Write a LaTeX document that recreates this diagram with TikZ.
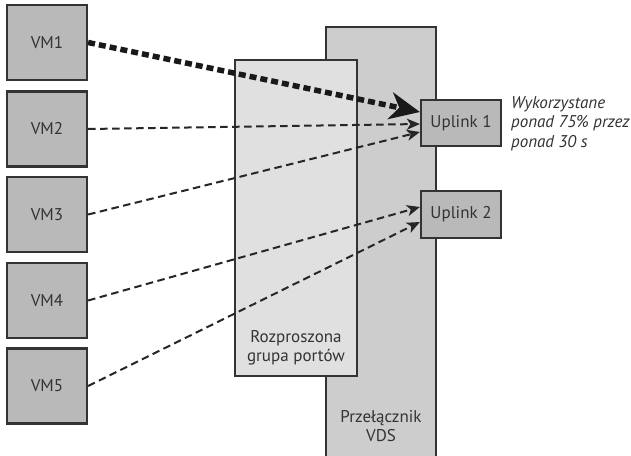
\documentclass[tikz,border=0pt]{standalone}
\usepackage{fontspec}
\setmainfont{PT Sans}
\usetikzlibrary{arrows.meta,calc}
\definecolor{edge}{HTML}{333333}
\definecolor{vmfill}{HTML}{B9B9B9}
\definecolor{pgfillc}{HTML}{E0E0E0}
\definecolor{vdsfill}{HTML}{CDCDCD}
\definecolor{txt}{HTML}{333333}
\begin{document}
\begin{tikzpicture}[x=1pt,y=-1pt,
  box/.style={draw=edge, line width=2.2pt, fill=#1, inner sep=0pt, text=txt, font=\fontsize{17}{19}\selectfont},
  vmbox/.style={box=vmfill, minimum width=80pt, minimum height=75pt},
  upbox/.style={box=vmfill, minimum width=80pt, minimum height=46pt},
  lbl/.style={text=txt, align=center, font=\fontsize{17}{19}\selectfont, inner sep=0pt},
  note/.style={text=txt, align=left, font=\itshape\fontsize{17}{19.5}\selectfont, inner sep=0pt, anchor=north west},
  thin/.style={draw=black!85, line width=2pt, dash pattern=on 7.5pt off 4.5pt, -{Stealth[length=13pt,width=11pt,inset=3.5pt]}},
  thick/.style={draw=black!90, line width=5.5pt, dash pattern=on 7pt off 4pt, -{Stealth[length=30pt,width=27pt,inset=9pt]}}
]
\useasboundingbox[fill=white] (0,0) rectangle (631,455);
% VDS switch
\node[box=vdsfill, minimum width=110pt, minimum height=432pt] (vds) at (381,243) {};
\node[lbl] (vdslbl) at (381,426) {Przełącznik\\VDS};
% port group
\node[box=pgfillc, minimum width=122pt, minimum height=316pt] (pg) at (296,218) {};
\node[lbl] (pglbl) at (296,348) {Rozproszona\\grupa portów};
% uplinks
\node[upbox] (u1) at (461,123) {Uplink 1};
\node[upbox, minimum height=47pt] (u2) at (461,214.5) {Uplink 2};
% VMs
\node[vmbox] (vm1) at (47,42.5) {VM1};
\node[vmbox] (vm2) at (47,129) {VM2};
\node[vmbox] (vm3) at (47,214.5) {VM3};
\node[vmbox] (vm4) at (47,300.5) {VM4};
\node[vmbox] (vm5) at (47,386) {VM5};
% note
\node[note] (note) at (511,96) {Wykorzystane\\ponad 75\% przez\\ponad 30 s};
% connectors
\draw[thin] (vm2.east) -- ([yshift=-1pt]u1.west);
\draw[thin] (vm3.east) -- ([yshift=-9pt]u1.west);
\draw[thin] (vm4.east) -- ([yshift=7.5pt]u2.west);
\draw[thin] (vm5.east) -- ([yshift=-7.5pt]u2.west);
\draw[thick] (vm1.east) -- ([yshift=11pt]u1.west);
\end{tikzpicture}
\end{document}
